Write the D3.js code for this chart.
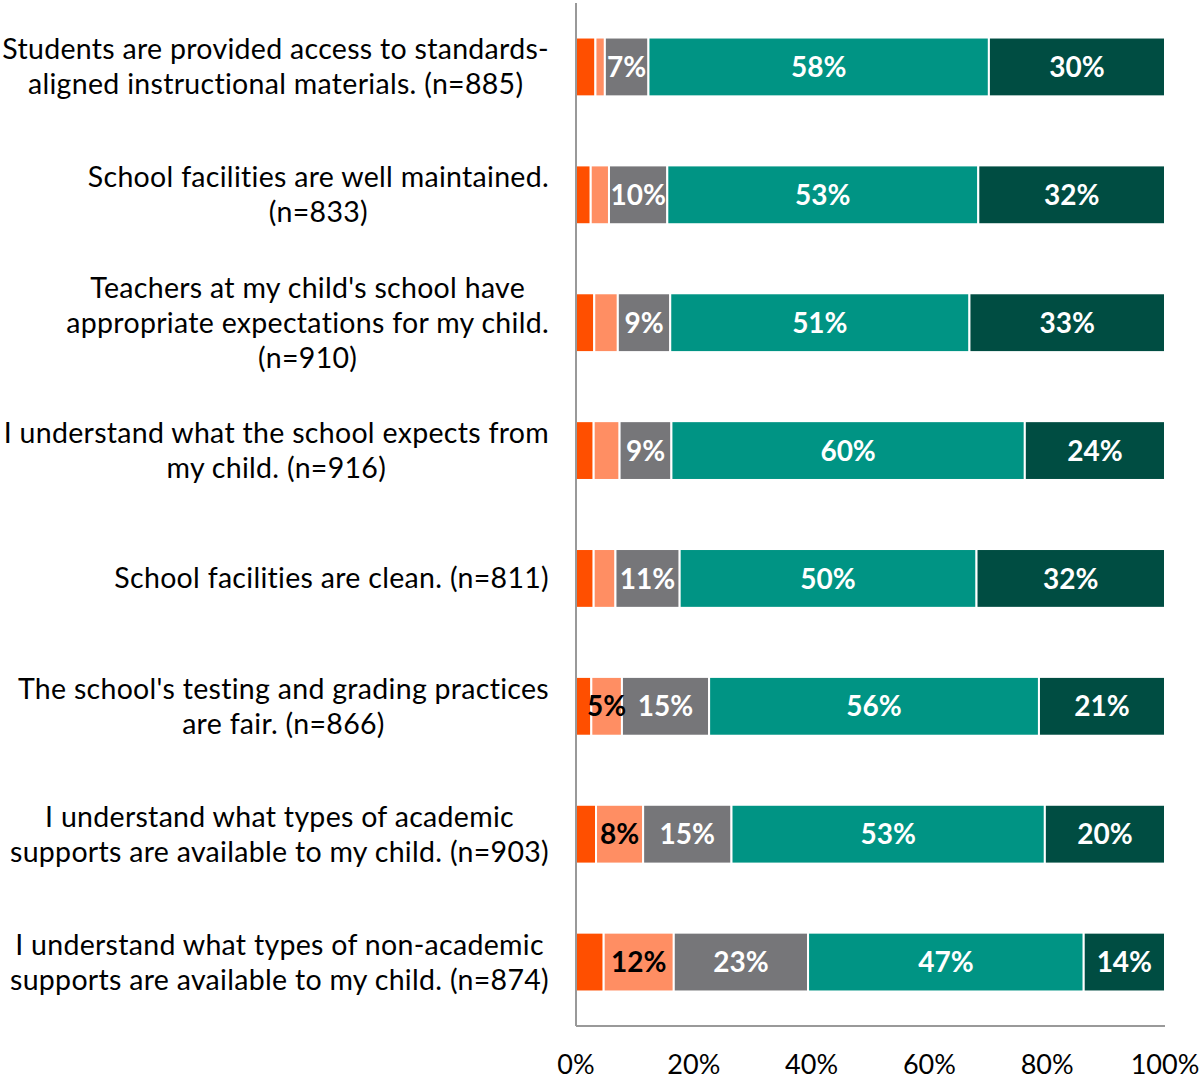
<!DOCTYPE html>
<html>
<head>
<meta charset="utf-8">
<script src="https://cdn.jsdelivr.net/npm/d3@7"></script>
<style>
  body { margin: 0; background: #fff; }
  svg { font-family: Lato, "Open Sans", sans-serif; }
</style>
</head>
<body>
<div id="chart"></div>
<script>
// chart data
var categories = [
	["Students are provided access to standards-", "aligned instructional materials. (n=885)"],
	["School facilities are well maintained.", "(n=833)"],
	["Teachers at my child's school have", "appropriate expectations for my child.", "(n=910)"],
	["I understand what the school expects from", "my child. (n=916)"],
	["School facilities are clean. (n=811)"],
	["The school's testing and grading practices", "are fair. (n=866)"],
	["I understand what types of academic", "supports are available to my child. (n=903)"],
	["I understand what types of non-academic", "supports are available to my child. (n=874)"]
];
var strongDisagree = [3.3, 2.5, 3.1, 3.0, 3.0, 2.6, 3.4, 4.7];
var disagree       = [1.6, 3.1, 4.0, 4.4, 3.7, 5.2, 8.0, 11.9];
var neutral        = [7.4, 9.9, 8.9, 8.8, 10.9, 14.8, 15.0, 22.8];
var agree          = [57.8, 52.8, 50.8, 60.0, 50.4, 56.0, 53.2, 46.8];
var strongAgree    = [29.9, 31.7, 33.2, 23.8, 32.0, 21.4, 20.4, 13.8];
var xTicks = [0, 20, 40, 60, 80, 100];

var series = [strongDisagree, disagree, neutral, agree, strongAgree];
var fills = ['#ff4f00', '#ff8e63', '#767679', '#009484', '#004d42'];
var labelColors = ['#000', '#000', '#fff', '#fff', '#fff'];

// dimensions (note: "top" is reserved on window, so use plotTop)
var width = 1203;
var height = 1078;
var plotLeft = 576, plotRight = 1165, plotTop = 3, plotBottom = 1026;

var svg = d3.select('#chart')
	.append('svg')
	.attr('width', width)
	.attr('height', height);

var x = d3.scaleLinear().domain([0, 100]).range([plotLeft, plotRight]);
var y = d3.scaleBand()
	.domain(d3.range(categories.length))
	.range([plotTop, plotBottom])
	.paddingInner(0.54)
	.paddingOuter(0.27);

// build stacked rows
var rows = categories.map(function(c, i) {
	var start = 0;
	return series.map(function(s, k) {
		var seg = { row: i, k: k, x0: start, x1: start + s[i], value: s[i] };
		start += s[i];
		return seg;
	});
});

var segs = svg.append('g').selectAll('g')
	.data(rows)
	.enter()
	.append('g');

segs.selectAll('rect')
	.data(function(d) { return d; })
	.enter()
	.append('rect')
		.attr('x', function(d) { return x(d.x0); })
		.attr('y', function(d) { return y(d.row); })
		.attr('width', function(d) { return x(d.x1) - x(d.x0); })
		.attr('height', y.bandwidth())
		.attr('fill', function(d) { return fills[d.k]; })
		.attr('stroke', 'white')
		.style('stroke-width', '2px');

segs.selectAll('text')
	.data(function(d) { return d.filter(function(s) { return s.k > 0 && s.value >= 5; }); })
	.enter()
	.append('text')
		.attr('x', function(d) { return (x(d.x0) + x(d.x1)) / 2; })
		.attr('y', function(d) { return y(d.row) + y.bandwidth() / 2; })
		.attr('dy', '0.36em')
		.attr('text-anchor', 'middle')
		.attr('font-size', '28px')
		.attr('font-weight', 'bold')
		.attr('fill', function(d) { return labelColors[d.k]; })
		.text(function(d) { return Math.round(d.value) + '%'; });

// category labels: block right aligned, lines centered within it
var lineH = 35;
categories.forEach(function(lines, i) {
	var g = svg.append('g');
	var cy = y(i) + y.bandwidth() / 2;
	var t = g.selectAll('text')
		.data(lines)
		.enter()
		.append('text')
			.attr('font-size', '28.5px')
			.attr('letter-spacing', '0.3px')
			.attr('fill', '#000')
			.attr('text-anchor', 'middle')
			.attr('y', function(d, j) { return cy + (j - (lines.length - 1) / 2) * lineH; })
			.attr('dy', '0.35em')
			.text(function(d) { return d; });
	var maxW = 0;
	t.each(function() { maxW = Math.max(maxW, this.getComputedTextLength()); });
	t.attr('x', 549 - maxW / 2);
});

// axes
svg.append('line')
	.attr('x1', plotLeft).attr('x2', plotLeft)
	.attr('y1', plotTop).attr('y2', plotBottom)
	.attr('stroke', '#999').style('stroke-width', '2px');
svg.append('line')
	.attr('x1', plotLeft).attr('x2', plotRight)
	.attr('y1', plotBottom).attr('y2', plotBottom)
	.attr('stroke', '#999').style('stroke-width', '2px');

svg.append('g').selectAll('text')
	.data(xTicks)
	.enter()
	.append('text')
		.attr('x', function(d) { return x(d); })
		.attr('y', 1065)
		.attr('dy', '0.35em')
		.attr('text-anchor', 'middle')
		.attr('font-size', '27px')
		.attr('fill', '#000')
		.text(function(d) { return d + '%'; });
</script>
</body>
</html>
